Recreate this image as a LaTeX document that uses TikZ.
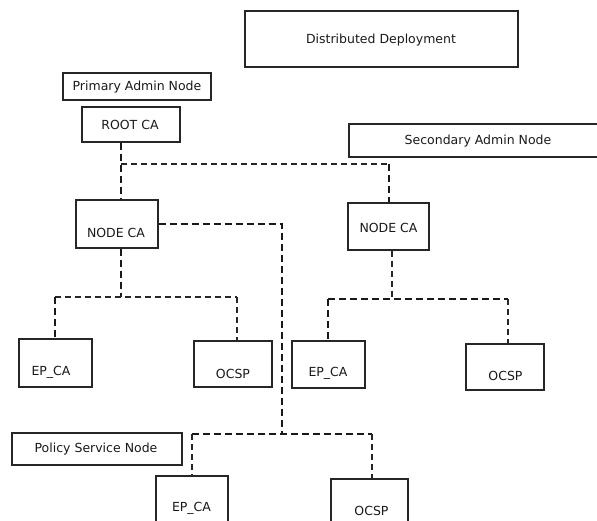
\documentclass[tikz,border=0pt]{standalone}
\usepackage{fontspec}
\setmainfont{DejaVu Sans}
\begin{document}
\begin{tikzpicture}[x=1pt,y=-1pt,
  box/.style={draw=black!85, line width=1.3pt, inner sep=0pt},
  lbl/.style={inner sep=0pt, text=black!90, font=\fontsize{12.5}{14}\selectfont},
  thk/.style={draw=black!90, line width=2.7pt, dash pattern=on 7pt off 4pt},
  thn/.style={draw=black!85, line width=1.4pt, dash pattern=on 6pt off 4pt}]
\useasboundingbox (0,0) rectangle (597,520);
\clip (0,0) rectangle (597,520);
% boxes
\node[box, minimum width=273pt, minimum height=56pt] (dd) at (381.5,39) {};
\node[lbl] (tdd) at (381,40) {Distributed Deployment};
\node[box, minimum width=148pt, minimum height=27pt] (pan) at (137,86.5) {};
\node[lbl] (tpan) at (137,87) {Primary Admin Node};
\node[box, minimum width=98pt, minimum height=35pt] (root) at (131,124.5) {};
\node[lbl] (troot) at (130,125) {ROOT CA};
\node[box, minimum width=251pt, minimum height=33pt] (san) at (474.5,140.5) {};
\node[lbl] (tsan) at (478,141) {Secondary Admin Node};
\node[box, minimum width=82pt, minimum height=48pt] (ncL) at (117,224) {};
\node[lbl] (tncL) at (116,233) {NODE CA};
\node[box, minimum width=81pt, minimum height=47pt] (ncR) at (388.5,226.5) {};
\node[lbl] (tncR) at (388.5,228) {NODE CA};
\node[box, minimum width=73pt, minimum height=48pt] (epL) at (55.5,363) {};
\node[lbl] (tepL) at (51,372) {EP\_CA};
\node[box, minimum width=78pt, minimum height=46pt] (ocL) at (233,364) {};
\node[lbl] (tocL) at (233,373.5) {OCSP};
\node[box, minimum width=73pt, minimum height=47pt] (epR) at (328.5,364.5) {};
\node[lbl] (tepR) at (328,373) {EP\_CA};
\node[box, minimum width=78pt, minimum height=46pt] (ocR) at (505,367) {};
\node[lbl] (tocR) at (505.5,376) {OCSP};
\node[box, minimum width=170pt, minimum height=32pt] (psn) at (97,449) {};
\node[lbl] (tpsn) at (96,449.5) {Policy Service Node};
\node[box, minimum width=72pt, minimum height=64pt] (epB) at (192,508) {};
\node[lbl] (tepB) at (191.5,508.5) {EP\_CA};
\node[box, minimum width=77pt, minimum height=62pt] (ocB) at (369.5,510) {};
\node[lbl] (tocB) at (371.5,510.5) {OCSP};
% junctions
\coordinate (jA) at (121,164);
\coordinate (jB) at (389,164);
\coordinate (jC) at (282,224);
\coordinate (jD) at (282,434);
\coordinate (jE) at (192,434);
\coordinate (jF) at (372,434);
\coordinate (jG) at (121,297);
\coordinate (jH) at (55,297);
\coordinate (jI) at (237,297);
\coordinate (jJ) at (392,299);
\coordinate (jK) at (328,299);
\coordinate (jL) at (508,299);
% connectors
\draw[thk] (root.south -| jA) -- (jA |- ncL.north);
\draw[thn] (jA) -- (jB);
\draw[thk] (jB) -- (jB |- ncR.north);
\draw[thk] (ncL.east |- jC) -- (jC) -- (jD);
\draw[thk] (jE) -- (jF);
\draw[thn] (jE) -- (jE |- epB.north);
\draw[thn] (jF) -- (jF |- ocB.north);
\draw[thk] (ncL.south -| jG) -- (jG);
\draw[thn] (jH) -- (jI);
\draw[thk] (jH) -- (jH |- epL.north);
\draw[thn] (jI) -- (jI |- ocL.north);
\draw[thn] (ncR.south -| jJ) -- (jJ);
\draw[thk] (jK) -- (jL);
\draw[thk] (jK) -- (jK |- epR.north);
\draw[thn] (jL) -- (jL |- ocR.north);
\end{tikzpicture}
\end{document}
